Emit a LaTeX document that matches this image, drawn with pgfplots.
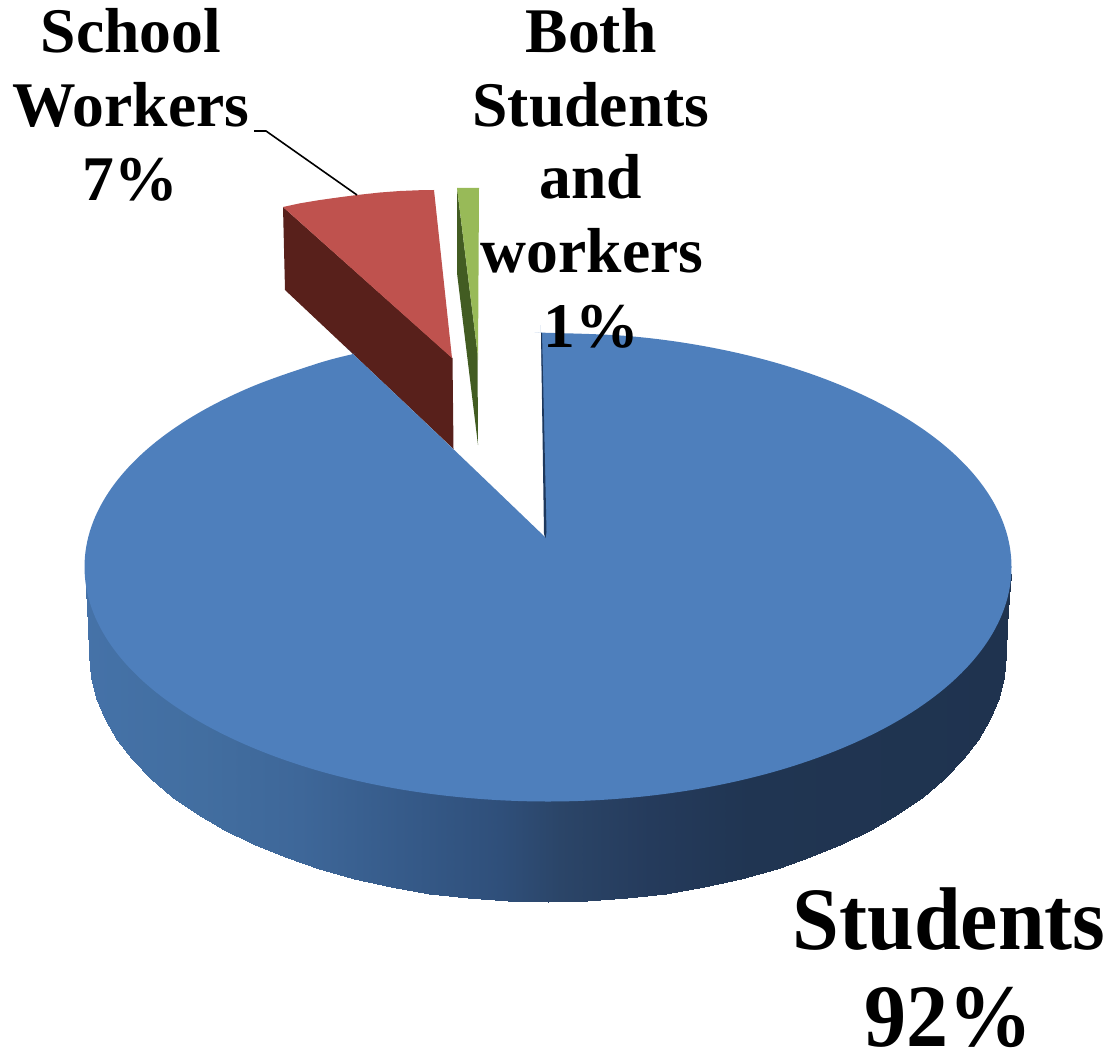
\documentclass[border=0pt]{standalone}
\usepackage{pgfplots}
\pgfplotsset{compat=1.18}
\usepackage{fontspec}
\setmainfont{Liberation Serif}
\definecolor{bluetop}{RGB}{78,127,188}
\definecolor{blueedge}{RGB}{30,56,92}
\definecolor{redtop}{RGB}{191,82,78}
\definecolor{redside}{RGB}{88,32,27}
\definecolor{greentop}{RGB}{152,186,88}
\definecolor{greenside}{RGB}{66,92,34}
\newcommand{\sliceLabel}[1]{\fontsize{31.8}{31.8}\selectfont\bfseries #1}
\newcommand{\bigLabel}[1]{\scalebox{1}[1.06]{\fontsize{42}{42}\selectfont\bfseries #1}}
\begin{document}
\begin{tikzpicture}
\path[use as bounding box] (0,0) rectangle (556pt,526.5pt);
\begin{axis}[
  at={(0,0)}, anchor=south west,
  scale only axis, width=556pt, height=526.5pt,
  xmin=0, xmax=1112, ymin=0, ymax=1053, y dir=reverse,
  hide axis, clip=false,
  colormap={sideblue}{
    rgb255(85pt)=(69,114,168);
    rgb255(200pt)=(66,110,160);
    rgb255(300pt)=(62,103,153);
    rgb255(400pt)=(54,91,138);
    rgb255(500pt)=(47,79,122);
    rgb255(560pt)=(43,69,104);
    rgb255(650pt)=(37,59,92);
    rgb255(750pt)=(32,53,82);
    rgb255(1012pt)=(31,51,79)
  },
  point meta min=85, point meta max=1012,
]
% rim of the large slice: lower edge and a line hidden under the top face
\addplot[surf, shader=interp, mesh/rows=42, mesh/cols=2, point meta=x] table {
x y
86 590
86 575
88 625
88 575
89.5 655
89.5 575
91.2 676.5
91.2 575
96.5 697.9
96.5 575
105.1 718.9
105.1 575
117.1 739.5
117.1 575
132.4 759.4
132.4 575
150.9 778.5
150.9 575
172.3 796.7
172.3 575
196.7 813.8
196.7 575
223.6 829.7
223.6 575
253.1 844.2
253.1 575
284.8 857.3
284.8 575
318.5 868.9
318.5 575
353.9 878.9
353.9 575
390.9 887.1
390.9 575
429 893.6
429 575
468 898.2
468 575
507.6 901.1
507.6 575
547.5 902
547.5 575
587.4 901.1
587.4 575
627 898.2
627 575
666 893.6
666 575
704.1 887.1
704.1 575
741.1 878.9
741.1 575
776.5 868.9
776.5 575
810.2 857.3
810.2 575
841.9 844.2
841.9 575
871.4 829.7
871.4 575
898.3 813.8
898.3 575
922.7 796.7
922.7 575
944.1 778.5
944.1 575
962.6 759.4
962.6 575
977.9 739.5
977.9 575
989.9 718.9
989.9 575
998.5 697.9
998.5 575
1003.8 676.5
1003.8 575
1005.5 655
1005.5 575
1007 625
1007 575
1009 597
1009 575
1011 575
1011 574
};
% side wall of the red slice
\addplot[fill=redside, draw=none] coordinates {
  (283,207) (452.5,358) (453.5,449) (353,354) (285,290) (283,207)};
% top of the large slice
\addplot[fill=bluetop, draw=none, smooth, tension=0.6] coordinates {
  (541,332.6) (541,332.6) (628.5,336.1) (706.5,346.6) (779.8,363.9) (845.9,387.4)
  (903.1,416.3) (949.4,449.7) (983.6,486.8) (1004.5,526.3) (1011.5,567)
  (1004.5,607.7) (983.6,647.2) (949.4,684.3) (903.1,717.7) (845.9,746.6)
  (779.8,770.1) (706.5,787.4) (628.5,797.9) (548,801.5) (467.5,797.9)
  (389.5,787.4) (316.2,770.1) (250.1,746.6) (192.9,717.7) (146.6,684.3)
  (112.4,647.2) (91.5,607.7) (84.5,567) (91.5,526.3) (112.4,486.8)
  (146.6,449.7) (192.9,416.3) (250.1,387.4) (316.2,363.9) (353,354)
  (353,354) (353,354) (449,445) (545,537) (545,537) (545,537)
  (543,435) (541,332.6) (541,332.6)};
% thin inner wall along the cut
\addplot[fill=blueedge, draw=none] coordinates {
  (541,333) (542,333) (544,420) (546.5,532) (545.5,538) (544,534) (541,333)};
% top of the red slice
\addplot[fill=redtop, draw=none] coordinates {
  (283,207) (300,203.3) (320,200) (340,197.2) (357,195) (380,192.5) (400,191)
  (420,190.2) (434,190) (452,358) (283,207)};
% thin slice, side wall and top
\addplot[fill=greenside, draw=none] coordinates {
  (457,188) (477.5,353) (478,445) (457,273) (457,188)};
\addplot[fill=greentop, draw=none] coordinates {
  (457,188) (479,188) (478,360) (477.5,353) (457,188)};
% leader from the label to its slice
\addplot[black, line width=0.8pt] coordinates {(254,131) (266,131) (357,195)};

\node[anchor=base, inner sep=0] at (axis cs:131,53)  {\sliceLabel{School}};
\node[anchor=base, inner sep=0] at (axis cs:131,127) {\sliceLabel{Workers}};
\node[anchor=base, inner sep=0] at (axis cs:130,201) {\sliceLabel{7\%}};
\node[anchor=base, inner sep=0] at (axis cs:591,53)  {\sliceLabel{Both}};
\node[anchor=base, inner sep=0] at (axis cs:591,127) {\sliceLabel{Students}};
\node[anchor=base, inner sep=0] at (axis cs:591,199) {\sliceLabel{and}};
\node[anchor=base, inner sep=0] at (axis cs:592,273) {\sliceLabel{workers}};
\node[anchor=base, inner sep=0] at (axis cs:591,348) {\sliceLabel{1\%}};
\node[anchor=base, inner sep=0] at (axis cs:949,949) {\bigLabel{Students}};
\node[anchor=base, inner sep=0] at (axis cs:948,1046) {\bigLabel{92\%}};
\end{axis}
\end{tikzpicture}
\end{document}
